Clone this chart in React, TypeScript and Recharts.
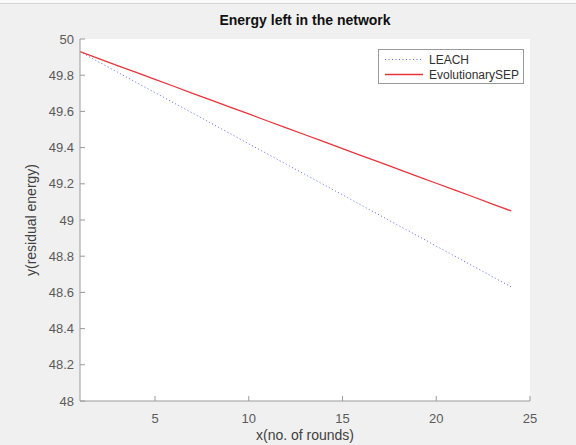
import React from 'react';
import { LineChart, Line, XAxis, YAxis, CartesianGrid } from 'recharts';

// rounds 1..24, residual energy
const rounds = [1, 2, 3, 4, 5, 6, 7, 8, 9, 10, 11, 12, 13, 14, 15, 16, 17, 18, 19, 20, 21, 22, 23, 24];
const leachEnergy = [
  49.93, 49.873, 49.817, 49.76, 49.704, 49.647, 49.591, 49.534, 49.478, 49.421, 49.365, 49.308,
  49.252, 49.195, 49.139, 49.082, 49.026, 48.969, 48.913, 48.856, 48.8, 48.743, 48.687, 48.63,
];
const evoSepEnergy = [
  49.93, 49.892, 49.853, 49.815, 49.777, 49.739, 49.7, 49.662, 49.624, 49.586, 49.547, 49.509,
  49.471, 49.433, 49.394, 49.356, 49.318, 49.28, 49.241, 49.203, 49.165, 49.127, 49.088, 49.05,
];
const seriesNames = ['LEACH', 'EvolutionarySEP'];
const xTicks = [5, 10, 15, 20, 25];
const yTicks = [48, 48.2, 48.4, 48.6, 48.8, 49, 49.2, 49.4, 49.6, 49.8, 50];

const FONT = '"Liberation Sans", Arial, sans-serif';
const AXIS = '#9a9a9a';
const LEACH_COLOR = '#5566f0';
const EVO_COLOR = '#e8343a';

export default function App() {
  const chartData = rounds.map((r, i) => ({ round: r, leach: leachEnergy[i], evo: evoSepEnergy[i] }));
  const tickStyle = { fill: '#5a5a5a', fontSize: 13, fontFamily: FONT };

  return (
    <div style={{ position: 'absolute', left: 0, top: 0, width: 576, height: 445, background: '#f0f0f0', overflow: 'hidden' }}>
      <div style={{ position: 'absolute', left: 0, top: 0, width: 576, height: 3, background: '#fafafa', borderBottom: '1px solid #d4d4d4' }} />
      <LineChart width={576} height={445} data={chartData} margin={{ top: 39, right: 46, bottom: 14, left: 20 }}>
        <CartesianGrid fill="#ffffff" horizontal={false} vertical={false} />
        <XAxis
          dataKey="round"
          type="number"
          domain={[1, 25]}
          ticks={xTicks}
          allowDataOverflow
          height={30}
          stroke={AXIS}
          tickSize={-5}
          tickMargin={18}
          tick={tickStyle}
        />
        <XAxis
          xAxisId="top"
          orientation="top"
          dataKey="round"
          type="number"
          domain={[1, 25]}
          ticks={xTicks}
          allowDataOverflow
          height={0}
          stroke={AXIS}
          tickSize={-5}
          tickFormatter={() => ''}
        />
        <YAxis
          type="number"
          domain={[48, 50]}
          ticks={yTicks}
          allowDataOverflow
          width={60}
          stroke={AXIS}
          tickSize={-5}
          tickMargin={11}
          tick={tickStyle}
        />
        <YAxis
          yAxisId="right"
          orientation="right"
          type="number"
          domain={[48, 50]}
          ticks={yTicks}
          allowDataOverflow
          width={0}
          stroke={AXIS}
          tickSize={-5}
          tickFormatter={() => ''}
        />
        <Line
          type="linear"
          dataKey="leach"
          name={seriesNames[0]}
          stroke={LEACH_COLOR}
          strokeWidth={1}
          strokeDasharray="1 2.5"
          dot={false}
          isAnimationActive={false}
        />
        <Line
          type="linear"
          dataKey="evo"
          name={seriesNames[1]}
          stroke={EVO_COLOR}
          strokeWidth={1.3}
          dot={false}
          isAnimationActive={false}
        />
      </LineChart>

      {/* title */}
      <div style={{ position: 'absolute', left: 80, width: 450, top: 12, textAlign: 'center', fontFamily: FONT, fontWeight: 'bold', fontSize: 14, color: '#111' }}>
        Energy left in the network
      </div>
      {/* x label */}
      <div style={{ position: 'absolute', left: 80, width: 450, top: 427, textAlign: 'center', fontFamily: FONT, fontSize: 14, color: '#404040' }}>
        x(no. of rounds)
      </div>
      {/* y label */}
      <div
        style={{
          position: 'absolute',
          left: 31,
          top: 220,
          transform: 'translate(-50%, -50%) rotate(-90deg)',
          whiteSpace: 'nowrap',
          fontFamily: FONT,
          fontSize: 14,
          color: '#404040',
        }}
      >
        y(residual energy)
      </div>

      {/* legend */}
      <div
        style={{
          position: 'absolute',
          left: 378,
          top: 49,
          width: 146,
          height: 35,
          boxSizing: 'border-box',
          background: '#fff',
          border: `1px solid ${AXIS}`,
          fontFamily: FONT,
          fontSize: 12,
          color: '#303030',
        }}
      >
        {seriesNames.map((name, i) => (
          <div key={name} style={{ position: 'absolute', left: 4, top: 2 + i * 15, height: 15, display: 'flex', alignItems: 'center' }}>
            <svg width={42} height={15}>
              <line
                x1={2}
                x2={40}
                y1={7.5}
                y2={7.5}
                stroke={i === 0 ? LEACH_COLOR : EVO_COLOR}
                strokeWidth={i === 0 ? 1 : 1.3}
                strokeDasharray={i === 0 ? '1 2.5' : undefined}
              />
            </svg>
            <span style={{ marginLeft: 4 }}>{name}</span>
          </div>
        ))}
      </div>
    </div>
  );
}
